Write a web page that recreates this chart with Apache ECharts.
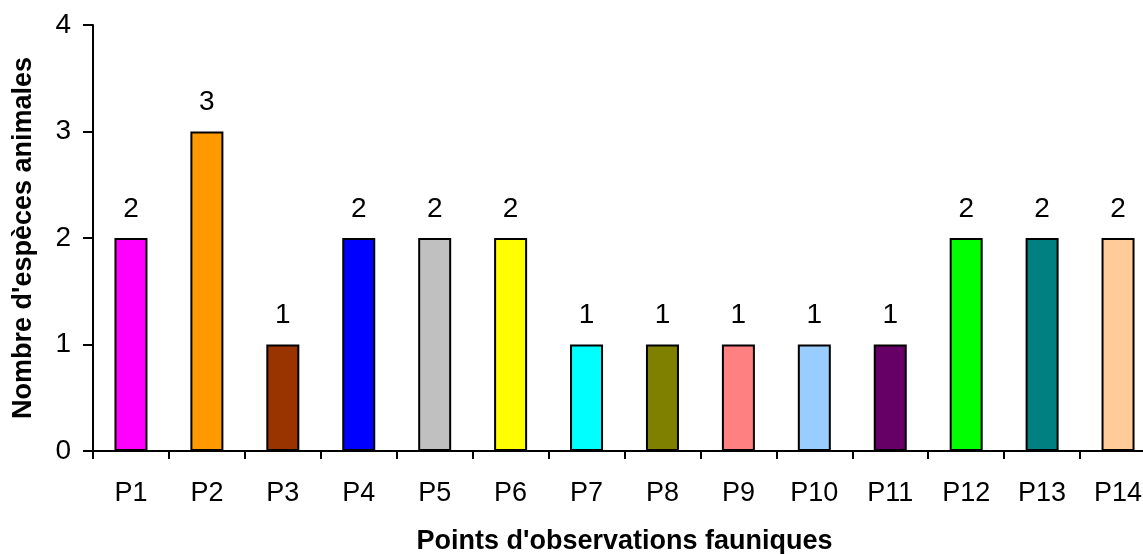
<!DOCTYPE html>
<html>
<head>
<meta charset="utf-8">
<script src="https://cdn.jsdelivr.net/npm/echarts@6/dist/echarts.min.js"></script>
<style>
html,body{margin:0;padding:0;background:#fff;}
#chart{width:1143px;height:554px;}
</style>
</head>
<body>
<div id="chart"></div>
<script>
// Number of animal species observed at each fauna observation point
const categories = ['P1','P2','P3','P4','P5','P6','P7','P8','P9','P10','P11','P12','P13','P14'];
const speciesCounts = [2,3,1,2,2,2,1,1,1,1,1,2,2,2];
const barColors = ['#FF00FF','#FF9900','#993300','#0000FF','#C0C0C0','#FFFF00','#00FFFF',
                   '#808000','#FF8080','#99CCFF','#660066','#00FF00','#008080','#FFCC99'];
const yTicks = [0,1,2,3,4];

const FONT = '"Liberation Sans", Arial, sans-serif';
const chart = echarts.init(document.getElementById('chart'), null, {renderer:'canvas'});

chart.setOption({
  animation:false,
  backgroundColor:'#fff',
  grid:{left:93, top:25, right:-13, bottom:103, containLabel:false, outerBoundsMode:'none'},
  xAxis:{
    type:'category',
    data:categories,
    name:"Points d'observations fauniques",
    nameLocation:'middle',
    nameGap:77,
    nameTextStyle:{fontFamily:FONT, fontSize:27, fontWeight:'bold', color:'#000'},
    axisLine:{lineStyle:{color:'#000', width:2}},
    axisTick:{show:true, alignWithLabel:false, length:8, lineStyle:{color:'#000', width:2}},
    axisLabel:{fontFamily:FONT, fontSize:27, color:'#000', margin:29}
  },
  yAxis:{
    type:'value',
    min:yTicks[0],
    max:yTicks[yTicks.length-1],
    interval:1,
    name:"Nombre d'espèces animales",
    nameLocation:'middle',
    nameGap:56,
    nameRotate:90,
    nameTextStyle:{fontFamily:FONT, fontSize:27, fontWeight:'bold', color:'#000'},
    splitLine:{show:false},
    axisLine:{show:true, lineStyle:{color:'#000', width:2}},
    axisTick:{show:true, inside:false, length:10, lineStyle:{color:'#000', width:2}},
    axisLabel:{fontFamily:FONT, fontSize:28, color:'#000', margin:22}
  },
  series:[{
    type:'bar',
    barWidth:33,
    data:speciesCounts.map((v,i)=>({value:v, itemStyle:{color:barColors[i]}})),
    itemStyle:{borderColor:'#000', borderWidth:2},
    label:{show:true, position:'top', distance:15, fontFamily:FONT, fontSize:28, color:'#000'}
  }]
});
</script>
</body>
</html>
